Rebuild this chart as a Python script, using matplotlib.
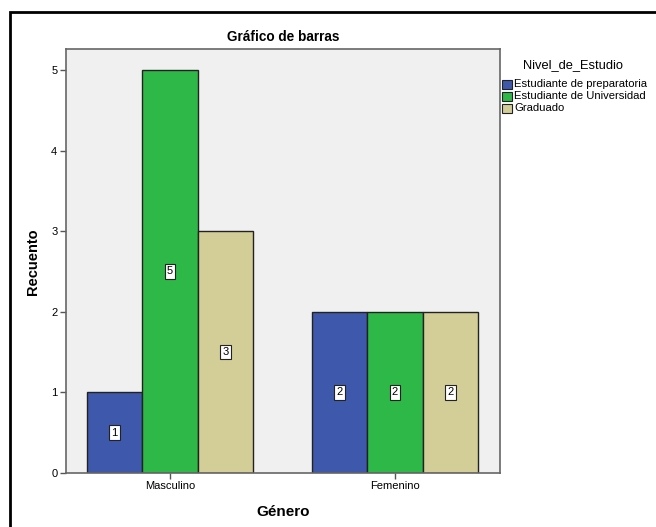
import matplotlib
matplotlib.use("Agg")
import matplotlib.pyplot as plt
from matplotlib.patches import Rectangle
import numpy as np

plt.rcParams['font.family'] = ['Liberation Sans', 'DejaVu Sans']

genders = ["Masculino", "Femenino"]
levels = ["Estudiante de preparatoria", "Estudiante de Universidad", "Graduado"]
counts = {
    "Estudiante de preparatoria": [1, 2],
    "Estudiante de Universidad": [5, 2],
    "Graduado": [3, 2],
}
colors = ["#3E58AC", "#2EB848", "#D3CE97"]
yticks = [0, 1, 2, 3, 4, 5]

W, H = 656, 527
fig = plt.figure(figsize=(W / 100, H / 100), dpi=100)
fig.patch.set_facecolor("white")

def fx(px):
    return px / W

def fy(py):
    return 1 - py / H

# outer frame
fig.patches.append(Rectangle((fx(10), -0.05), 1.1, fy(12) + 0.05,
                             transform=fig.transFigure, fill=False,
                             edgecolor="black", linewidth=2))

ax = fig.add_axes([fx(65.7), fy(473), (500 - 65.7) / W, (473 - 49) / H])
ax.set_facecolor("#F0F0F0")

x = np.arange(len(genders))
bw = 0.2467
for i, (lvl, col) in enumerate(zip(levels, colors)):
    vals = counts[lvl]
    xs = x + (i - 1) * bw
    ax.bar(xs, vals, width=bw, color=col, edgecolor="#222222", linewidth=1.0,
           label=lvl, zorder=2)
    for xi, v in zip(xs, vals):
        ax.text(xi, v / 2, str(v), ha="center", va="center", fontsize=8,
                zorder=3,
                bbox=dict(boxstyle="square,pad=0.2", facecolor="white",
                          edgecolor="#222222", linewidth=0.8))

ax.set_xlim(-0.4636, 1.4667)
ax.set_ylim(0, 5.26)
ax.set_xticks(x)
ax.set_xticklabels(genders, fontsize=8)
ax.set_yticks(yticks)
ax.set_yticklabels([str(t) for t in yticks], fontsize=8)
ax.tick_params(direction="out", length=4, width=1, color="#555555", pad=2)
for s in ax.spines.values():
    s.set_color("#666666")
    s.set_linewidth(1.2)

fig.text(fx(283), fy(37), "Gráfico de barras", fontsize=9.8, fontweight="bold",
         ha="center", va="center")
fig.text(fx(33), fy(262), "Recuento", fontsize=10.5, fontweight="bold",
         ha="center", va="center", rotation=90)
fig.text(fx(283), fy(512), "Género", fontsize=11, fontweight="bold",
         ha="center", va="center")

# legend
fig.text(fx(573), fy(65), "Nivel_de_Estudio", fontsize=9.3, ha="center", va="center")
row_y = [84, 96.2, 108.5]
for lvl, col, ry in zip(levels, colors, row_y):
    fig.patches.append(Rectangle((fx(502), fy(ry + 4.5)), 9.5 / W, 9 / H,
                                 transform=fig.transFigure, facecolor=col,
                                 edgecolor="#222222", linewidth=0.8))
    fig.text(fx(514), fy(ry), lvl, fontsize=8.1, ha="left", va="center")

fig.savefig("out.png", dpi=100)
